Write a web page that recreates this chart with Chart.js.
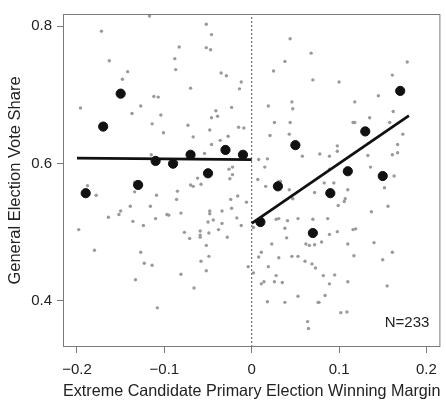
<!DOCTYPE html>
<html lang="en">
<head>
<meta charset="UTF-8">
<title>Extreme Candidate Primary Election Winning Margin</title>
<script src="https://cdn.jsdelivr.net/npm/chart.js"></script>
<style>
  html, body { margin: 0; padding: 0; background: #fff; }
  #wrap { width: 446px; height: 401px; }
</style>
</head>
<body>
<div id="wrap"><canvas id="rdChart" width="446" height="401"></canvas></div>
<script>
// individual races: winning margin of the extreme candidate vs. general election vote share
const marginX = [
  -0.196,-0.172,-0.163,-0.148,-0.142,-0.137,-0.127,-0.117,-0.114,-0.112,-0.107,-0.104,-0.101,-0.115,
  -0.088,-0.087,-0.083,-0.070,-0.073,-0.067,-0.052,-0.046,-0.052,-0.047,-0.035,-0.029,-0.041,-0.039,
  -0.046,-0.048,-0.023,-0.027,-0.036,-0.046,-0.054,-0.012,-0.014,-0.015,-0.009,-0.026,-0.022,
  0.044,0.068,0.038,0.025,0.070,0.100,0.178,0.161,0.145,0.118,0.046,0.047,0.019,0.026,0.044,0.043,
  0.021,0.162,0.135,0.116,0.118,0.158,0.173,0.167,0.167,0.161,0.058,0.078,0.089,0.098,0.098,0.133,
  0.136,0.008,0.018,0.015,0.089,
  0.007,0.016,0.031,0.033,0.043,0.047,0.072,0.083,0.094,0.110,0.107,0.106,0.099,0.152,0.163,0.156,
  0.137,-0.006,-0.012,0.002,0.028,0.031,0.041,0.053,0.070,0.087,0.038,0.040,0.023,0.062,0.066,0.072,
  0.080,0.089,0.098,0.116,0.119,0.110,0.140,0.161,0.150,0.117,0.011,0.008,0.031,0.046,0.053,0.061,
  0.069,0.073,0.019,-0.004,0.002,0.028,0.082,0.095,0.014,0.011,0.026,0.035,0.089,0.110,0.155,0.084,
  0.053,0.018,0.038,0.076,0.077,0.102,0.109,0.064,0.065,
  -0.188,-0.178,-0.198,-0.180,-0.164,-0.152,-0.150,-0.139,-0.136,-0.134,-0.134,-0.124,-0.127,-0.123,
  -0.114,-0.133,-0.108,-0.116,-0.109,-0.110,-0.097,-0.095,-0.085,-0.086,-0.081,-0.077,-0.071,-0.081,
  -0.066,-0.070,-0.067,-0.062,-0.058,-0.059,-0.059,-0.059,-0.052,-0.049,-0.050,-0.048,-0.048,-0.044,
  -0.058,-0.049,-0.052,-0.038,-0.034,-0.034,-0.028,-0.024,-0.023,-0.025,-0.022,-0.017,-0.016
];
const voteShare = [
  0.681,0.793,0.750,0.723,0.734,0.673,0.684,0.815,0.658,0.698,0.697,0.671,0.645,0.613,
  0.753,0.737,0.770,0.710,0.656,0.639,0.803,0.788,0.769,0.766,0.732,0.728,0.677,0.669,
  0.667,0.649,0.682,0.640,0.634,0.628,0.615,0.719,0.709,0.653,0.652,0.592,0.595,
  0.782,0.761,0.749,0.735,0.722,0.719,0.748,0.729,0.699,0.690,0.690,0.680,0.684,0.660,0.660,0.643,
  0.641,0.676,0.667,0.660,0.660,0.660,0.643,0.628,0.616,0.613,0.611,0.614,0.611,0.626,0.618,0.612,
  0.595,0.606,0.607,0.595,0.592,
  0.577,0.567,0.574,0.574,0.562,0.549,0.558,0.572,0.572,0.562,0.549,0.545,0.539,0.565,0.582,0.538,
  0.530,0.544,0.510,0.507,0.519,0.520,0.517,0.520,0.519,0.520,0.506,0.492,0.483,0.483,0.481,0.482,
  0.486,0.497,0.501,0.504,0.505,0.483,0.485,0.471,0.460,0.466,0.471,0.464,0.463,0.465,0.465,0.458,
  0.454,0.448,0.450,0.450,0.441,0.437,0.437,0.438,0.428,0.425,0.428,0.427,0.425,0.428,0.422,0.408,
  0.407,0.399,0.398,0.398,0.398,0.383,0.384,0.370,0.360,
  0.568,0.554,0.504,0.474,0.522,0.526,0.531,0.538,0.516,0.559,0.573,0.510,0.471,0.455,
  0.452,0.431,0.390,0.538,0.554,0.520,0.526,0.525,0.560,0.548,0.528,0.500,0.491,0.439,
  0.419,0.569,0.567,0.579,0.570,0.502,0.496,0.493,0.481,0.499,0.515,0.531,0.527,0.518,
  0.458,0.465,0.444,0.504,0.513,0.531,0.493,0.548,0.535,0.578,0.584,0.521,0.553
];

// bin means (width 0.02) on each side of the cutoff
const binX = [-0.19,-0.17,-0.15,-0.13,-0.11,-0.09,-0.07,-0.05,-0.03,-0.01,
              0.01,0.03,0.05,0.07,0.09,0.11,0.13,0.15,0.17];
const binMean = [0.557,0.654,0.702,0.569,0.604,0.600,0.613,0.586,0.620,0.613,
                 0.515,0.567,0.627,0.499,0.557,0.589,0.647,0.582,0.706];

// linear fits left and right of the threshold
const fitLeftX = [-0.2, 0];
const fitLeftY = [0.608, 0.606];
const fitRightX = [0, 0.18];
const fitRightY = [0.513, 0.670];

const xTicks = [-0.2, -0.1, 0, 0.1, 0.2];
const xTickLabels = ['\u22120.2', '\u22120.1', '0', '0.1', '0.2'];
const yTicks = [0.4, 0.6, 0.8];
const yTickLabels = ['0.4', '0.6', '0.8'];
const xRange = [-0.216, 0.216];
const yRange = [0.333, 0.818];
const cutoff = 0;
const sampleNote = 'N=233';

const toPts = (xs, ys) => xs.map((x, i) => ({x: x, y: ys[i]}));

const FONT = "'Liberation Sans', Arial, Helvetica, sans-serif";

// box around the plot region plus the N label
const boxPlugin = {
  id: 'boxPlugin',
  afterDraw(chart) {
    const {ctx, chartArea: a} = chart;
    ctx.save();
    ctx.strokeStyle = '#7a7a7a';
    ctx.lineWidth = 1;
    ctx.strokeRect(a.left + 0.5, a.top + 0.5, a.right - a.left - 1, a.bottom - a.top - 1);
    ctx.fillStyle = '#222';
    ctx.font = '15px ' + FONT;
    ctx.textAlign = 'right';
    ctx.textBaseline = 'alphabetic';
    ctx.fillText(sampleNote, a.right - 11, a.bottom - 20);
    ctx.restore();
  }
};

new Chart(document.getElementById('rdChart'), {
  type: 'scatter',
  data: {
    datasets: [
      {
        label: 'bins',
        data: toPts(binX, binMean),
        backgroundColor: '#111',
        borderColor: '#111',
        pointRadius: 4.6,
        order: 0
      },
      {
        type: 'line',
        label: 'fit left',
        data: toPts(fitLeftX, fitLeftY),
        borderColor: '#111',
        borderWidth: 2.8,
        pointRadius: 0,
        order: 1
      },
      {
        type: 'line',
        label: 'fit right',
        data: toPts(fitRightX, fitRightY),
        borderColor: '#111',
        borderWidth: 2.8,
        pointRadius: 0,
        order: 1
      },
      {
        type: 'line',
        label: 'cutoff',
        data: toPts([cutoff, cutoff], yRange),
        borderColor: '#555',
        borderWidth: 1,
        borderDash: [2, 2],
        pointRadius: 0,
        order: 2
      },
      {
        label: 'races',
        data: toPts(marginX, voteShare),
        backgroundColor: '#9a9a9a',
        borderWidth: 0,
        pointRadius: 1.7,
        order: 3
      }
    ]
  },
  options: {
    responsive: false,
    animation: false,
    layout: { padding: { top: 7, right: 3, left: 0, bottom: 0 } },
    plugins: {
      legend: { display: false },
      tooltip: { enabled: false }
    },
    scales: {
      x: {
        type: 'linear',
        min: xRange[0],
        max: xRange[1],
        afterFit(scale) { scale.height = 54; },
        afterBuildTicks(scale) { scale.ticks = xTicks.map(v => ({value: v})); },
        grid: { drawOnChartArea: false, tickLength: 6, color: '#7a7a7a' },
        border: { display: false },
        ticks: {
          padding: 8,
          color: '#222',
          font: { family: FONT, size: 15 },
          maxRotation: 0,
          callback: (v) => xTickLabels[xTicks.indexOf(v)]
        },
        title: {
          display: true,
          text: 'Extreme Candidate Primary Election Winning Margin',
          color: '#222',
          font: { family: FONT, size: 16.5 },
          padding: { top: 0, bottom: 0 }
        }
      },
      y: {
        type: 'linear',
        min: yRange[0],
        max: yRange[1],
        afterFit(scale) { scale.width = 63; },
        afterBuildTicks(scale) { scale.ticks = yTicks.map(v => ({value: v})); },
        grid: { drawOnChartArea: false, tickLength: 6, color: '#7a7a7a' },
        border: { display: false },
        ticks: {
          padding: 5,
          color: '#222',
          font: { family: FONT, size: 15 },
          callback: (v) => yTickLabels[yTicks.indexOf(v)]
        },
        title: {
          display: true,
          text: 'General Election Vote Share',
          color: '#222',
          font: { family: FONT, size: 16.5 },
          padding: { top: 6, bottom: 0 }
        }
      }
    }
  },
  plugins: [boxPlugin]
});
</script>
</body>
</html>
